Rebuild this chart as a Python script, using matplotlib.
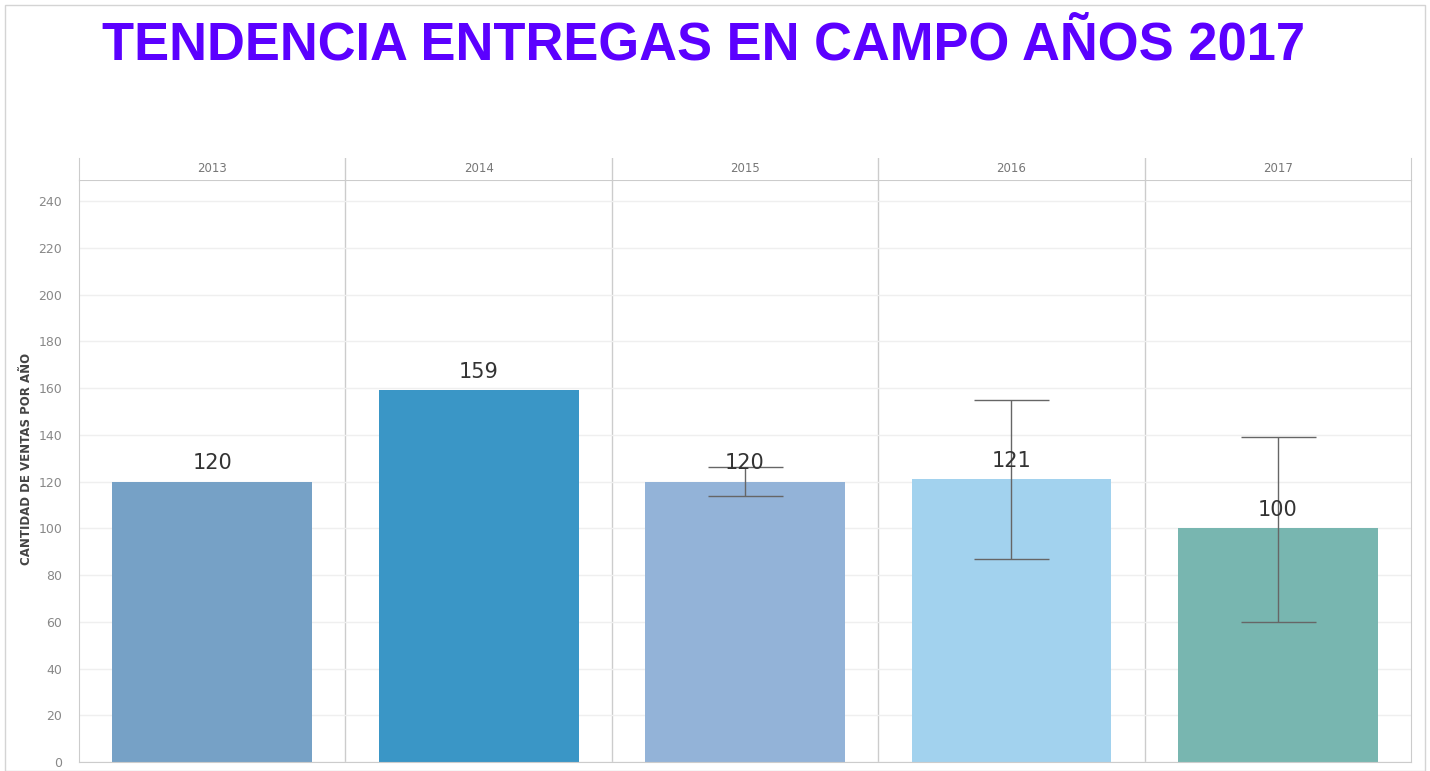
import numpy as np
import matplotlib.pyplot as plt
from matplotlib.patches import Rectangle

# data
years = ["2013", "2014", "2015", "2016", "2017"]
ventas = [120, 159, 120, 121, 100]
err_low = [np.nan, np.nan, 114, 87, 60]
err_high = [np.nan, np.nan, 126, 155, 139]
colores = ["#76a1c6", "#3a96c6", "#93b3d8", "#a2d2ee", "#78b6b0"]
yticks = list(range(0, 241, 20))

W, H = 1430, 771
fig = plt.figure(figsize=(W / 100, H / 100), dpi=100)

# outer frame
fig.patches.append(Rectangle((5 / W, 0), 1420 / W, 766 / H, transform=fig.transFigure,
                             fill=False, edgecolor="#d4d4d4", linewidth=1))

fig.text(704 / W, 1 - 60 / H, "TENDENCIA ENTREGAS EN CAMPO AÑOS 2017", ha="center", va="baseline",
         color="#5b00ff", fontsize=37.8, fontweight="bold", family="Liberation Sans")

left, right = 79 / W, 1411 / W
bot, top = 1 - 762 / H, 1 - 180 / H
ax = fig.add_axes([left, bot, right - left, top - bot])
hdr = fig.add_axes([left, top, right - left, 22 / H])

x = np.arange(len(years))
ax.bar(x, ventas, width=0.75, color=colores, zorder=2)

lo = np.array(ventas, dtype=float) - np.array(err_low)
hi = np.array(err_high) - np.array(ventas, dtype=float)
ax.errorbar(x, ventas, yerr=[lo, hi], fmt="none", ecolor="#666666", elinewidth=1,
            capsize=27, capthick=1, zorder=3)

for i, v in enumerate(ventas):
    ax.text(x[i], v + 3.5, str(v), ha="center", va="bottom", fontsize=15, color="#333333", zorder=4)

ax.set_xlim(-0.5, len(years) - 0.5)
ax.set_ylim(0, 249)
ax.set_yticks(yticks)
ax.set_xticks([])
ax.tick_params(axis="y", length=0, labelsize=9, labelcolor="#888888", pad=12)
ax.yaxis.grid(True, color="#efefef", linewidth=1, zorder=0)
for i in range(1, len(years)):
    ax.axvline(i - 0.5, color="#cccccc", linewidth=1, zorder=1)
for s in ax.spines.values():
    s.set_color("#cccccc")
ax.set_ylabel("CANTIDAD DE VENTAS POR AÑO", fontsize=8.5, fontweight="bold", color="#444444")
ax.yaxis.set_label_coords(-0.0345, 0.52)

hdr.set_xlim(-0.5, len(years) - 0.5)
hdr.set_ylim(0, 1)
hdr.set_xticks([])
hdr.set_yticks([])
for i, y in enumerate(years):
    hdr.text(x[i], 0.5, y, ha="center", va="center", fontsize=8.5, color="#777777")
for i in range(1, len(years)):
    hdr.axvline(i - 0.5, color="#cccccc", linewidth=1)
hdr.spines["top"].set_visible(False)
hdr.spines["bottom"].set_visible(False)
hdr.spines["left"].set_color("#cccccc")
hdr.spines["right"].set_color("#cccccc")

fig.savefig("out.png", dpi=100)
